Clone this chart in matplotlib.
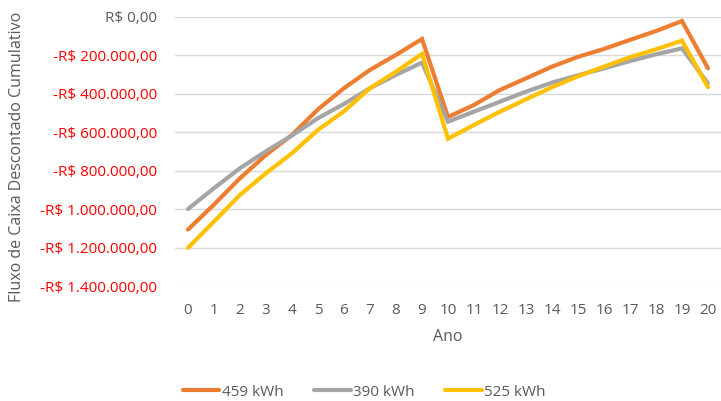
import matplotlib
matplotlib.use("Agg")
from matplotlib import pyplot as plt
from matplotlib.ticker import FuncFormatter

# year index and cumulative discounted cash flow for each system size
anos = list(range(21))
fluxo_459 = [-1105000, -975000, -838000, -717000, -613000, -480000, -370000, -275000,
             -197000, -114000, -520000, -457000, -379000, -319000, -258000, -207000,
             -166000, -119000, -73000, -21000, -267000]
fluxo_390 = [-998000, -890000, -786000, -698000, -616000, -526000, -452000, -370000,
             -301000, -237000, -544000, -492000, -440000, -388000, -341000, -303000,
             -267000, -229000, -194000, -163000, -345000]
fluxo_525 = [-1200000, -1063000, -925000, -812000, -708000, -587000, -490000, -370000,
             -284000, -192000, -633000, -561000, -492000, -428000, -365000, -308000,
             -258000, -209000, -168000, -123000, -365000]
legendas = ['459 kWh', '390 kWh', '525 kWh']


def moeda(v, pos):
    # Brazilian currency format: R$ 1.200.000,00
    s = '{:,.2f}'.format(abs(v)).replace(',', 'X').replace('.', ',').replace('X', '.')
    return ('-R$ ' if v < 0 else 'R$ ') + s


plt.rcParams['font.family'] = ['Open Sans', 'DejaVu Sans']

fig = plt.figure(figsize=(7.21, 4.01), dpi=100)
ax = fig.add_axes([175 / 721, 1 - 286.3 / 401, 546 / 721, (286.3 - 17) / 401])

for serie, cor, nome in zip([fluxo_459, fluxo_390, fluxo_525],
                            ['#ED7D31', '#A5A5A5', '#FFC000'], legendas):
    ax.plot(anos, serie, color=cor, lw=3, solid_joinstyle='miter',
            solid_capstyle='round', label=nome)

ax.set_xlim(-0.5, 20.5)
ax.set_ylim(-1400000, 0)
ax.set_xticks(anos)
ax.set_yticks(range(-1400000, 1, 200000))
ax.yaxis.set_major_formatter(FuncFormatter(moeda))

ax.grid(axis='y', color='#D9D9D9', lw=1)
ax.set_axisbelow(True)
for s in ax.spines.values():
    s.set_visible(False)
ax.tick_params(length=0, labelsize=11, colors='#595959')
ax.tick_params(axis='y', pad=13)
ax.tick_params(axis='x', pad=12)
for lbl, v in zip(ax.get_yticklabels(), ax.get_yticks()):
    if v < 0:
        lbl.set_color('#FF0000')

ax.set_xlabel('Ano', fontsize=11.5, color='#595959', labelpad=8)
fig.text(17 / 721, 1 - 157 / 401, 'Fluxo de Caixa Descontado Cumulativo', rotation=90,
         ha='center', va='center', fontsize=11.5, color='#595959')

fig.legend(loc='center', bbox_to_anchor=(364 / 721, 1 - 392 / 401), ncol=3, frameon=False,
           fontsize=11, handlelength=2.4, handletextpad=0.15, columnspacing=2.0,
           labelcolor='#595959')

fig.savefig('out.png', dpi=100)
